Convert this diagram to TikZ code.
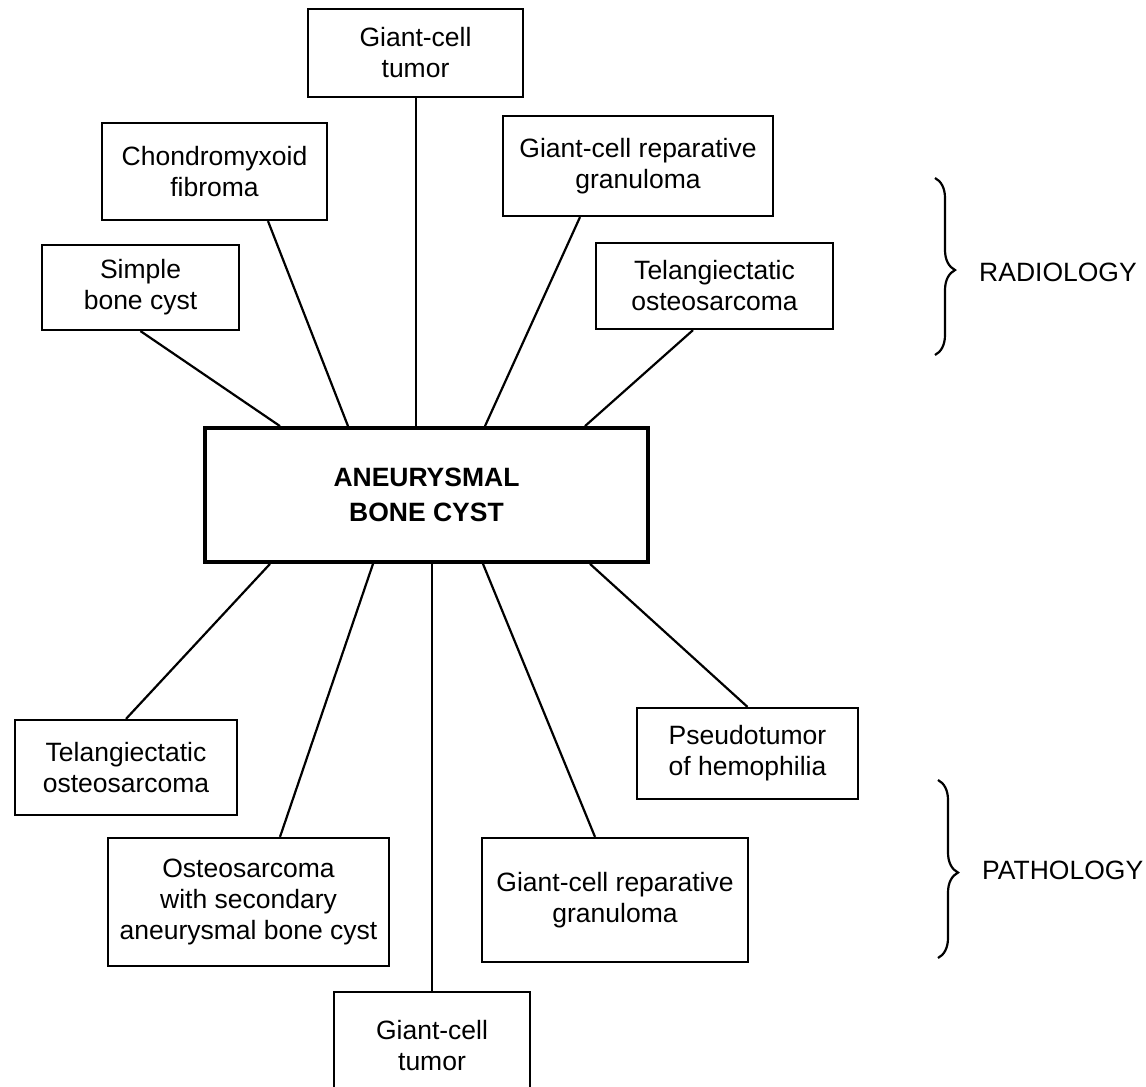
\documentclass[tikz,border=0pt]{standalone}
\usepackage{fontspec}
\setmainfont{Liberation Sans}
\usepackage{tikz}
\usetikzlibrary{decorations.pathreplacing}

\begin{document}
\begin{tikzpicture}[
    x=1pt, y=-1pt,
    dxbox/.style = {rectangle, draw=black, line width=2.2pt, align=center, inner sep=0pt, font=\fontsize{26.5}{31}\selectfont},
    mainbox/.style = {dxbox, line width=3.8pt, font=\fontsize{26.5}{35}\selectfont\bfseries},
    link/.style = {draw=black, line width=2.2pt},
    bracket/.style = {draw=black, line width=2.2pt, decorate, decoration={brace, amplitude=20pt, aspect=0.52}},
    side/.style = {font=\fontsize{26.5}{31}\selectfont, anchor=west, inner sep=0pt}
]
\useasboundingbox (0,0) rectangle (1146,1087);
\clip (0,0) rectangle (1146,1087);

% Centre: Aneurysmal bone cyst
\node (c_abc) [mainbox, minimum width=443pt, minimum height=134pt] at (426.5, 495) {ANEURYSMAL\\BONE CYST};

% Radiology: Giant-cell tumor
\node (r_gct) [dxbox, minimum width=215pt, minimum height=88pt] at (415.5, 53) {Giant-cell\\tumor};

% Radiology: Chondromyxoid fibroma
\node (r_cmf) [dxbox, minimum width=225pt, minimum height=97pt] at (214.5, 171.5) {Chondromyxoid\\fibroma};

% Radiology: Giant-cell reparative granuloma
\node (r_grg) [dxbox, minimum width=270pt, minimum height=100pt] at (638, 166) {Giant-cell reparative\\granuloma};

% Radiology: Simple bone cyst
\node (r_sbc) [dxbox, minimum width=197pt, minimum height=85pt] at (140.5, 287.5) {Simple\\bone cyst};

% Radiology: Telangiectatic osteosarcoma
\node (r_tos) [dxbox, minimum width=237pt, minimum height=86pt] at (714.5, 286) {Telangiectatic\\osteosarcoma};

% Pathology: Telangiectatic osteosarcoma
\node (p_tos) [dxbox, minimum width=222pt, minimum height=95pt] at (126, 767.5) {Telangiectatic\\osteosarcoma};

% Pathology: Pseudotumor of hemophilia
\node (p_pth) [dxbox, minimum width=221pt, minimum height=91pt] at (747.5, 753.5) {Pseudotumor\\of hemophilia};

% Pathology: Osteosarcoma with secondary ABC
\node (p_osa) [dxbox, minimum width=281pt, minimum height=128pt] at (248.5, 902) {Osteosarcoma\\with secondary\\aneurysmal bone cyst};

% Pathology: Giant-cell reparative granuloma
\node (p_grg) [dxbox, minimum width=266pt, minimum height=124pt] at (615, 900) {Giant-cell reparative\\granuloma};

% Pathology: Giant-cell tumor
\node (p_gct) [dxbox, minimum width=196pt, minimum height=108pt] at (432, 1046) {Giant-cell\\tumor};

% Connections
\draw [link] (r_sbc.south) -- ([xshift=-146.5pt]c_abc.north);
\draw [link] ([xshift=53.5pt]r_cmf.south) -- ([xshift=-78.5pt]c_abc.north);
\draw [link] ([xshift=0.5pt]r_gct.south) -- ([xshift=-10.5pt]c_abc.north);
\draw [link] ([xshift=-58pt]r_grg.south) -- ([xshift=58.5pt]c_abc.north);
\draw [link] ([xshift=-21.5pt]r_tos.south) -- ([xshift=158.5pt]c_abc.north);
\draw [link] (p_tos.north) -- ([xshift=-156.5pt]c_abc.south);
\draw [link] ([xshift=31.5pt]p_osa.north) -- ([xshift=-53.5pt]c_abc.south);
\draw [link] (p_gct.north) -- ([xshift=5.5pt]c_abc.south);
\draw [link] ([xshift=-20pt]p_grg.north) -- ([xshift=56.5pt]c_abc.south);
\draw [link] (p_pth.north) -- ([xshift=163.5pt]c_abc.south);

% Braces
\draw [bracket] (935,178) -- (935,355);
\node (l_rad) [side] at (979, 272) {RADIOLOGY};
\draw [bracket] (938,780) -- (938,958);
\node (l_path) [side] at (982, 870) {PATHOLOGY};

\end{tikzpicture}
\end{document}
